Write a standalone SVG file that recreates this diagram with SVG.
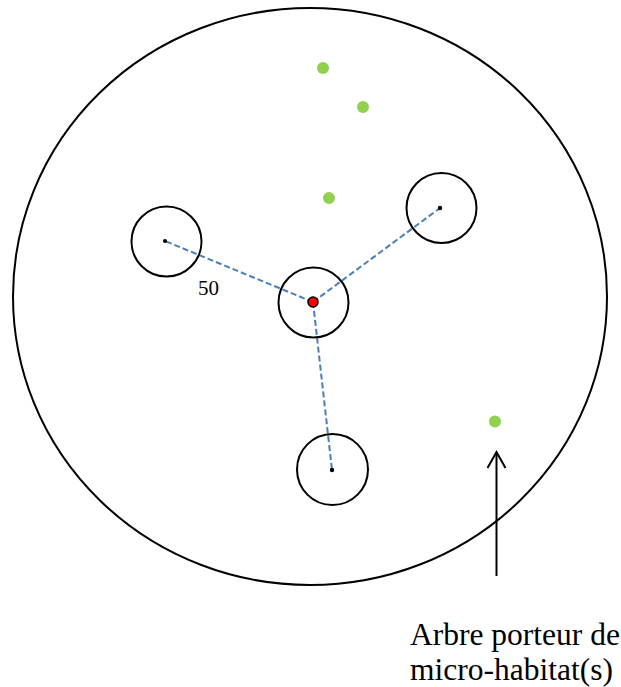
<svg xmlns="http://www.w3.org/2000/svg" width="621" height="687" viewBox="0 0 621 687">
<style>
.ring{fill:none;stroke:#000;stroke-width:2}
.dot{fill:#000}
.green{fill:#92d050}
.dash{fill:none;stroke:#4a7ebb;stroke-width:2;stroke-dasharray:6,3}
.lbl{font-family:"Liberation Serif","Times New Roman",serif;fill:#000}
</style>
<rect width="621" height="687" fill="#fff"/>
<g id="plot">
<ellipse class="ring" cx="310" cy="296.5" rx="297" ry="288.5"/>
</g>
<g id="connectors">
<line class="dash" x1="313" y1="302" x2="165" y2="241"/>
<line class="dash" x1="313" y1="302" x2="440" y2="208"/>
<line class="dash" x1="313" y1="302" x2="332" y2="470"/>
<line x1="496.5" y1="576" x2="496.5" y2="452" stroke="#000" stroke-width="2"/>
<polyline points="487.5,468 496.5,452 505.5,468" fill="none" stroke="#000" stroke-width="2"/>
</g>
<g id="center">
<circle class="ring" cx="313.5" cy="302.5" r="35"/>
<circle cx="313" cy="302" r="5" fill="#ff0000" stroke="#000" stroke-width="1.5"/>
</g>
<g id="left">
<circle class="ring" cx="166.5" cy="241.5" r="35"/>
<circle class="dot" cx="165" cy="241" r="2"/>
</g>
<g id="right">
<circle class="ring" cx="441.5" cy="208" r="35"/>
<circle class="dot" cx="440" cy="208" r="2.2"/>
</g>
<g id="bottom">
<circle class="ring" cx="332.5" cy="469.5" r="35.5"/>
<circle class="dot" cx="332" cy="470" r="2.2"/>
</g>
<g id="trees">
<circle class="green" cx="323" cy="68" r="6"/>
<circle class="green" cx="363" cy="107" r="6"/>
<circle class="green" cx="329" cy="198" r="6"/>
<circle class="green" cx="495" cy="421.5" r="6"/>
</g>
<g id="labels">
<text class="lbl" x="198" y="295" font-size="21">50</text>
<text class="lbl" x="410" y="645" font-size="31.5">Arbre porteur de</text>
<text class="lbl" x="410" y="680" font-size="31.5">micro-habitat(s)</text>
</g>
</svg>
